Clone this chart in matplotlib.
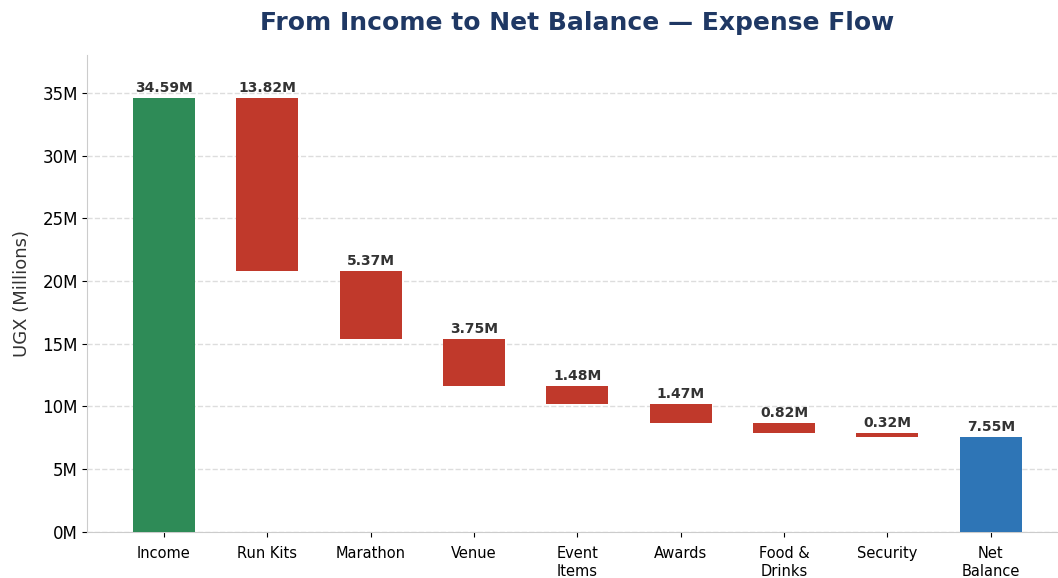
import matplotlib.pyplot as plt
from matplotlib.ticker import FuncFormatter

categories = ['Income', 'Run Kits', 'Marathon', 'Venue', 'Event\nItems',
              'Awards', 'Food &\nDrinks', 'Security', 'Net\nBalance']
income = 34.59
expenses = [13.82, 5.37, 3.75, 1.48, 1.47, 0.82, 0.32]
net_balance = 7.55

GREEN = '#2e8b57'
RED = '#c0392b'
BLUE = '#2e75b6'

# waterfall: heights and bottoms for each step
heights = [income]
bottoms = [0]
level = income
for e in expenses:
    level -= e
    heights.append(e)
    bottoms.append(level)
heights.append(net_balance)
bottoms.append(0)
colors = [GREEN] + [RED] * len(expenses) + [BLUE]

fig = plt.figure(figsize=(10.58, 5.78), dpi=100)
ax = fig.add_axes([0.0827, 0.08, 0.925, 0.825])

x = range(len(categories))
ax.bar(x, heights, bottom=bottoms, width=0.6, color=colors, zorder=3)

for i, (h, b) in enumerate(zip(heights, bottoms)):
    ax.text(i, b + h + 0.25, f'{h:.2f}M', ha='center', va='bottom',
            fontsize=10, fontweight='bold', color='#333333', zorder=4)

ax.set_xticks(list(x))
ax.set_xticklabels(categories, fontsize=10.5)
ax.tick_params(axis='x', pad=7)
ax.set_ylim(0, income * 1.1)
ax.set_xlim(-0.74, 8.73)
ax.yaxis.set_major_formatter(FuncFormatter(lambda v, p: f'{v:.0f}M'))
ax.tick_params(axis='y', labelsize=12)
ax.set_ylabel('UGX (Millions)', fontsize=13, color='#333333', labelpad=8)
ax.grid(axis='y', linestyle='--', color='#dddddd', linewidth=1, zorder=0)

for side in ['top', 'right']:
    ax.spines[side].set_visible(False)
for side in ['left', 'bottom']:
    ax.spines[side].set_color('#cccccc')

ax.set_title('From Income to Net Balance — Expense Flow', fontsize=18,
             fontweight='bold', color='#1f3864', pad=18)

fig.savefig('out.png', dpi=100)
